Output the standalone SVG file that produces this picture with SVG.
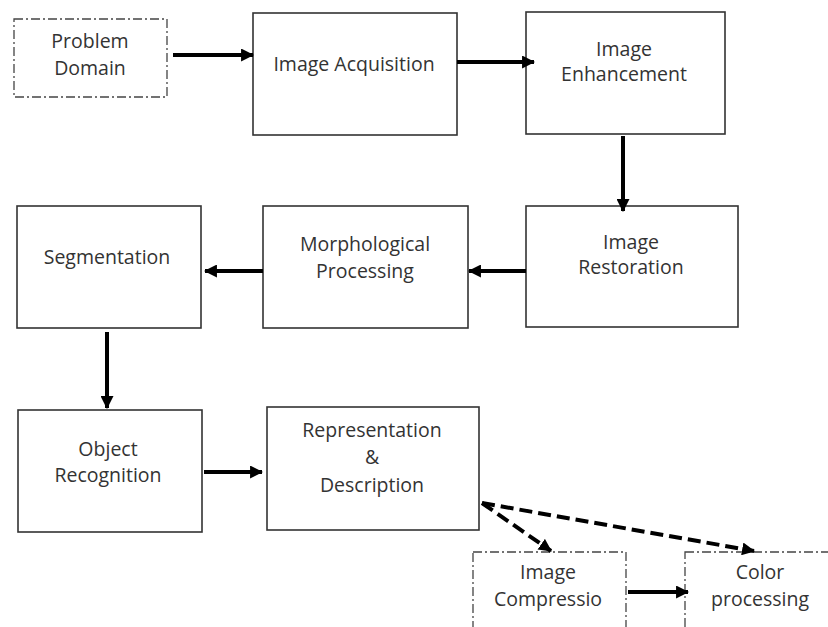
<svg xmlns="http://www.w3.org/2000/svg" width="828" height="627" viewBox="0 0 828 627">
  <defs>
    <marker id="head" markerUnits="userSpaceOnUse" markerWidth="13" markerHeight="13" viewBox="0 0 12 12" refX="11" refY="6" orient="auto">
      <path d="M0,0 L12,6 L0,12 Z" fill="#000"/>
    </marker>
    <style>
      .box { fill: #fff; stroke: #333; stroke-width: 1.6; }
      .dd { fill: #fff; stroke: #444; stroke-width: 1.3; stroke-dasharray: 9 3 2 3; }
      .lbl { font-family: "Open Sans", "Liberation Sans", sans-serif; font-size: 19.5px; fill: #333; text-anchor: middle; }
      .arr { stroke: #000; stroke-width: 4; fill: none; marker-end: url(#head); }
      .dash { stroke: #000; stroke-width: 4; fill: none; stroke-dasharray: 13 6; marker-end: url(#head); }
    </style>
  </defs>
  <rect width="828" height="627" fill="#fff"/>

  <g id="problem-domain">
    <rect class="dd" x="14" y="19" width="153" height="78"/>
    <text class="lbl" x="90" y="48">Problem</text>
    <text class="lbl" x="90" y="75">Domain</text>
  </g>
  <g id="image-acquisition">
    <rect class="box" x="253" y="13" width="204" height="122"/>
    <text class="lbl" x="354" y="71">Image Acquisition</text>
  </g>
  <g id="image-enhancement">
    <rect class="box" x="526" y="12" width="199" height="122"/>
    <text class="lbl" x="624" y="56">Image</text>
    <text class="lbl" x="624" y="81">Enhancement</text>
  </g>
  <g id="image-restoration">
    <rect class="box" x="526" y="206" width="212" height="121"/>
    <text class="lbl" x="631" y="249">Image</text>
    <text class="lbl" x="631" y="274">Restoration</text>
  </g>
  <g id="morphological-processing">
    <rect class="box" x="263" y="206" width="205" height="122"/>
    <text class="lbl" x="365" y="251">Morphological</text>
    <text class="lbl" x="365" y="278">Processing</text>
  </g>
  <g id="segmentation">
    <rect class="box" x="17" y="206" width="184" height="122"/>
    <text class="lbl" x="107" y="264">Segmentation</text>
  </g>
  <g id="object-recognition">
    <rect class="box" x="18" y="410" width="184" height="122"/>
    <text class="lbl" x="108" y="456">Object</text>
    <text class="lbl" x="108" y="482">Recognition</text>
  </g>
  <g id="representation-description">
    <rect class="box" x="267" y="407" width="212" height="123"/>
    <text class="lbl" x="372" y="437">Representation</text>
    <text class="lbl" x="372" y="464">&amp;</text>
    <text class="lbl" x="372" y="492">Description</text>
  </g>
  <g id="image-compression">
    <rect class="dd" x="473" y="552" width="153" height="90"/>
    <text class="lbl" x="548" y="579">Image</text>
    <text class="lbl" x="548" y="606">Compressio</text>
  </g>
  <g id="color-processing">
    <rect class="dd" x="685" y="552" width="160" height="90"/>
    <text class="lbl" x="760" y="579">Color</text>
    <text class="lbl" x="760" y="606">processing</text>
  </g>

  <g id="connectors">
    <line class="arr" x1="173" y1="55" x2="253" y2="55"/>
    <line class="arr" x1="457" y1="62" x2="534" y2="62"/>
    <line class="arr" x1="623" y1="136" x2="623" y2="211"/>
    <line class="arr" x1="526" y1="271" x2="469" y2="271"/>
    <line class="arr" x1="263" y1="271" x2="205" y2="271"/>
    <line class="arr" x1="107" y1="332" x2="107" y2="408"/>
    <line class="arr" x1="204" y1="472" x2="262" y2="472"/>
    <line class="dash" x1="482" y1="503" x2="551" y2="551"/>
    <line class="dash" x1="482" y1="503" x2="754" y2="551"/>
    <line class="arr" x1="628" y1="592" x2="688" y2="592"/>
  </g>
</svg>
